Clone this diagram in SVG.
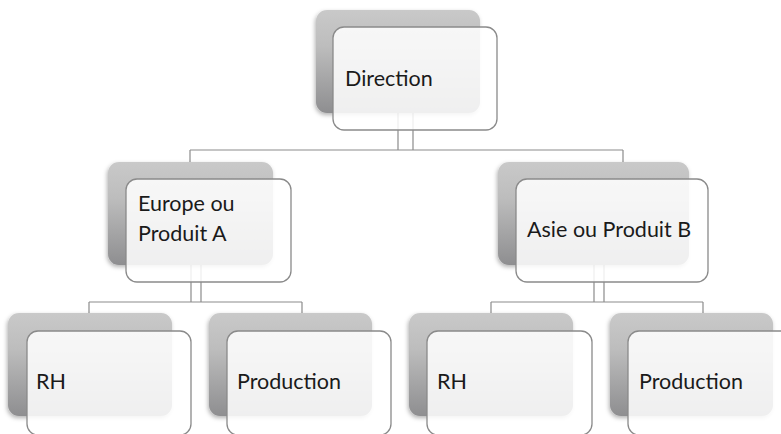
<svg xmlns="http://www.w3.org/2000/svg" width="781" height="434" viewBox="0 0 781 434">
  <defs>
    <linearGradient id="backGrad" x1="0" y1="0" x2="0" y2="1">
      <stop offset="0" stop-color="#c9c9c9"/>
      <stop offset="0.35" stop-color="#bdbdbd"/>
      <stop offset="1" stop-color="#8e8e90"/>
    </linearGradient>
    <filter id="shadow" x="-10%" y="-10%" width="120%" height="125%">
      <feDropShadow dx="-1" dy="2" stdDeviation="2" flood-color="#000" flood-opacity="0.3"/>
    </filter>
  </defs>
  <style>
    .back { fill: url(#backGrad); filter: url(#shadow); }
    .front { fill: #ffffff; fill-opacity: 0.86; stroke: #8a8a8a; stroke-width: 1.3; }
    .conn { fill: none; stroke: #8c8c8c; stroke-width: 1.2; }
    .label { font-family: "Lato", "Open Sans", sans-serif; font-size: 21.5px; fill: #1a1a1a; }
  </style>
  <rect width="781" height="434" fill="#ffffff"/>

  <!-- connectors -->
  <g id="connectors">
    <path class="conn" d="M398,113 V150 M413,113 V150 M190,150 H623 M190,150 V162 M623,150 V162"/>
    <path class="conn" d="M191,265 V302 M201,265 V302 M89,302 H302 M89,302 V313 M302,302 V313"/>
    <path class="conn" d="M594,265 V302 M604,265 V302 M491,302 H703 M491,302 V313 M703,302 V313"/>
  </g>

  <g id="direction">
    <rect class="back" x="316" y="10" width="164" height="103" rx="11"/>
    <rect class="front" x="333" y="27" width="164" height="103" rx="11"/>
    <text class="label" x="345" y="86">Direction</text>
  </g>

  <g id="europe">
    <rect class="back" x="108" y="162" width="165" height="103" rx="11"/>
    <rect class="front" x="126" y="179" width="165" height="103" rx="11"/>
    <text class="label" x="138" y="211">Europe ou</text>
    <text class="label" x="138" y="241">Produit A</text>
  </g>

  <g id="asie">
    <rect class="back" x="498" y="162" width="191" height="103" rx="11"/>
    <rect class="front" x="516" y="179" width="192" height="103" rx="11"/>
    <text class="label" x="527" y="237">Asie ou Produit B</text>
  </g>

  <g id="rh-a">
    <rect class="back" x="8" y="313" width="164" height="103" rx="11"/>
    <rect class="front" x="27" y="331" width="164" height="104" rx="11"/>
    <text class="label" x="36" y="389">RH</text>
  </g>

  <g id="production-a">
    <rect class="back" x="209" y="313" width="163" height="103" rx="11"/>
    <rect class="front" x="227" y="331" width="164" height="104" rx="11"/>
    <text class="label" x="237" y="389">Production</text>
  </g>

  <g id="rh-b">
    <rect class="back" x="409" y="313" width="164" height="103" rx="11"/>
    <rect class="front" x="427" y="331" width="165" height="104" rx="11"/>
    <text class="label" x="437" y="389">RH</text>
  </g>

  <g id="production-b">
    <rect class="back" x="610" y="313" width="163" height="103" rx="11"/>
    <rect class="front" x="628" y="331" width="164" height="104" rx="11"/>
    <text class="label" x="639" y="389">Production</text>
  </g>
</svg>
